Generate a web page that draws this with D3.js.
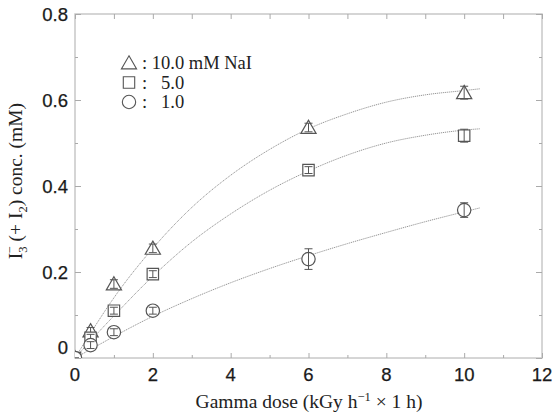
<!DOCTYPE html>
<html><head><meta charset="utf-8">
<script src="https://cdn.jsdelivr.net/npm/d3@7/dist/d3.min.js"></script>
<style>body{margin:0;background:#fff}svg{display:block}</style>
</head><body>
<svg id="c" width="553" height="416"></svg>
<script>
// ---- data ----
const doses = [0, 0.4, 1, 2, 6, 10];
const nai10 = [0, 0.063, 0.172, 0.255, 0.536, 0.617];
const nai5  = [0, 0.047, 0.110, 0.195, 0.437, 0.517];
const nai1  = [0, 0.030, 0.060, 0.110, 0.230, 0.344];
const err10 = [0, 0.008, 0.010, 0.010, 0.010, 0.015];
const err5  = [0, 0.008, 0.008, 0.008, 0.008, 0.015];
const err1  = [0, 0.008, 0.008, 0.008, 0.024, 0.017];
const fitX   = [0, 0.5, 1, 2, 3, 4, 5, 6, 7, 8, 9, 10, 10.4];
const fit10  = [0, 0.072, 0.14, 0.255, 0.35, 0.425, 0.485, 0.533, 0.568, 0.595, 0.612, 0.622, 0.626];
const fit5   = [0, 0.05, 0.098, 0.19, 0.27, 0.335, 0.39, 0.435, 0.472, 0.5, 0.518, 0.53, 0.533];
const fit1   = [0, 0.025, 0.05, 0.097, 0.138, 0.175, 0.208, 0.238, 0.266, 0.292, 0.317, 0.34, 0.349];
const xTicks = [0, 2, 4, 6, 8, 10, 12];
const yTicks = [0, 0.2, 0.4, 0.6, 0.8];
const legendLabels = [": 10.0 mM NaI", ":   5.0", ":   1.0"];

const svg = d3.select("#c");
const L = 75, R = 542, T = 14, B = 358;
const x = d3.scaleLinear().domain([0, 12]).range([L, R]);
const y = d3.scaleLinear().domain([0, 0.8]).range([B, T]);

const axisCol = "#c8c8c8", tickCol = "#aaa", markCol = "#555";

svg.append("clipPath").attr("id","pc").append("rect")
  .attr("x", L).attr("y", T).attr("width", R - L).attr("height", B - T);

svg.append("rect").attr("x", L).attr("y", T).attr("width", R - L).attr("height", B - T)
  .attr("fill", "none").attr("stroke", axisCol).attr("stroke-width", 1.5);

const xMinor = d3.range(0, 13, 1), yMinor = d3.range(0, 0.81, 0.1);
function tickSet(axisGen, tr){
  const g = svg.append("g").attr("transform", tr).call(axisGen);
  g.select(".domain").remove();
  g.selectAll("line").attr("stroke", tickCol);
  g.selectAll("text").remove();
  return g;
}
tickSet(d3.axisBottom(x).tickValues(xMinor.filter(v=>v%2)).tickSizeInner(-3).tickSizeOuter(0), `translate(0,${B})`);
tickSet(d3.axisBottom(x).tickValues(xTicks).tickSizeInner(-5).tickSizeOuter(0), `translate(0,${B})`);
tickSet(d3.axisTop(x).tickValues(xMinor).tickSizeInner(-5).tickSizeOuter(0), `translate(0,${T})`);
tickSet(d3.axisLeft(y).tickValues(yMinor.filter((v,i)=>i%2)).tickSizeInner(-3).tickSizeOuter(0), `translate(${L},0)`);
tickSet(d3.axisLeft(y).tickValues(yTicks).tickSizeInner(-6).tickSizeOuter(0), `translate(${L},0)`);
tickSet(d3.axisRight(y).tickValues(yMinor.filter((v,i)=>i%2)).tickSizeInner(-3).tickSizeOuter(0), `translate(${R},0)`);
tickSet(d3.axisRight(y).tickValues(yTicks).tickSizeInner(-6).tickSizeOuter(0), `translate(${R},0)`);

const sans = "'Liberation Sans', Arial, sans-serif";
const serif = "'Liberation Serif', 'Times New Roman', serif";
svg.append("g").selectAll("text").data(xTicks).join("text")
  .attr("x", d => x(d)).attr("y", 380.5).attr("text-anchor", "middle")
  .attr("font-family", sans).attr("font-size", 18.5).attr("fill", "#1a1a1a")
  .attr("stroke", "#1a1a1a").attr("stroke-width", 0.25)
  .text(d => d);
svg.append("g").selectAll("text").data(yTicks).join("text")
  .attr("x", 68).attr("y", d => d === 0 ? y(d) - 11 : y(d)).attr("dy", "0.36em")
  .attr("text-anchor", "end")
  .attr("font-family", sans).attr("font-size", 18.5).attr("fill", "#1a1a1a")
  .attr("stroke", "#1a1a1a").attr("stroke-width", 0.25)
  .text(d => d === 0 ? "0" : d3.format(".1f")(d));

const xt = svg.append("text").attr("x", 309).attr("y", 408).attr("text-anchor", "middle")
  .attr("font-family", serif).attr("font-size", 19.5).attr("fill", "#222");
xt.append("tspan").text("Gamma dose (kGy h");
xt.append("tspan").attr("font-size", 12.5).attr("dy", -7).text("−1");
xt.append("tspan").attr("dy", 7).text(" × 1 h)");

const yt = svg.append("text").attr("transform", "translate(22,181) rotate(-90)")
  .attr("text-anchor", "middle").attr("font-family", serif).attr("font-size", 19.5).attr("fill", "#222");
yt.append("tspan").text("I");
yt.append("tspan").attr("font-size", 12.5).attr("dy", 5).text("3");
yt.append("tspan").attr("font-size", 12.5).attr("dx", -7).attr("dy", -13).text("−");
yt.append("tspan").attr("dy", 8).text(" (+ I");
yt.append("tspan").attr("font-size", 12.5).attr("dy", 5).text("2");
yt.append("tspan").attr("dy", -5).text(") conc. (mM)");

const line = d3.line().x(d => x(d[0])).y(d => y(d[1])).curve(d3.curveMonotoneX);
[fit10, fit5, fit1].forEach(f => {
  svg.append("path").attr("d", line(fitX.map((v,i)=>[v, f[i]])))
    .attr("fill", "none").attr("stroke", "#8a8a8a").attr("stroke-width", 0.9)
    .attr("stroke-dasharray", "1.2,0.8");
});

const symTri = d3.symbol().type(d3.symbolTriangle).size(100);
const symSq = d3.symbol().type(d3.symbolSquare).size(130);
const symCirc = d3.symbol().type(d3.symbolCircle).size(140);
const series = [
  {v: nai10, e: err10, sym: symTri, dy: 1.5},
  {v: nai5,  e: err5,  sym: symSq, dy: 0},
  {v: nai1,  e: err1,  sym: symCirc, dy: 0}
];
const pts = svg.append("g").attr("clip-path", "url(#pc)");
series.forEach(s => {
  const data = doses.map((d,i)=>({x:d, y:s.v[i], e:s.e[i]}));
  const g = pts.append("g").selectAll("g").data(data).join("g")
    .attr("transform", d => `translate(${x(d.x)},${y(d.y)})`);
  g.append("path").attr("d", s.sym()).attr("transform", `translate(0,${s.dy})`)
    .attr("fill", "#fff").attr("stroke", markCol).attr("stroke-width", 1.2);
  g.append("line").attr("x1",0).attr("x2",0)
    .attr("y1", d => y(d.y + d.e) - y(d.y)).attr("y2", d => y(d.y - d.e) - y(d.y))
    .attr("stroke", markCol).attr("stroke-width", 1);
  g.append("line").attr("x1",-4).attr("x2",4)
    .attr("y1", d => y(d.y + d.e) - y(d.y)).attr("y2", d => y(d.y + d.e) - y(d.y))
    .attr("stroke", markCol).attr("stroke-width", 1);
  g.append("line").attr("x1",-4).attr("x2",4)
    .attr("y1", d => y(d.y - d.e) - y(d.y)).attr("y2", d => y(d.y - d.e) - y(d.y))
    .attr("stroke", markCol).attr("stroke-width", 1);
});

const syms = [symTri, symSq, symCirc];
const lg = svg.append("g");
legendLabels.forEach((t,i) => {
  const yy = 63 + i * 19.5;
  lg.append("path").attr("d", syms[i]()).attr("transform", `translate(129,${yy + (i===0?1.5:0)})`)
    .attr("fill", "#fff").attr("stroke", markCol).attr("stroke-width", 1.1);
  lg.append("text").attr("x", 142).attr("y", yy + 6).attr("xml:space","preserve")
    .style("white-space","pre")
    .attr("font-family", serif).attr("font-size", 18.5).attr("fill", "#222").text(t);
});
</script>
</body></html>
